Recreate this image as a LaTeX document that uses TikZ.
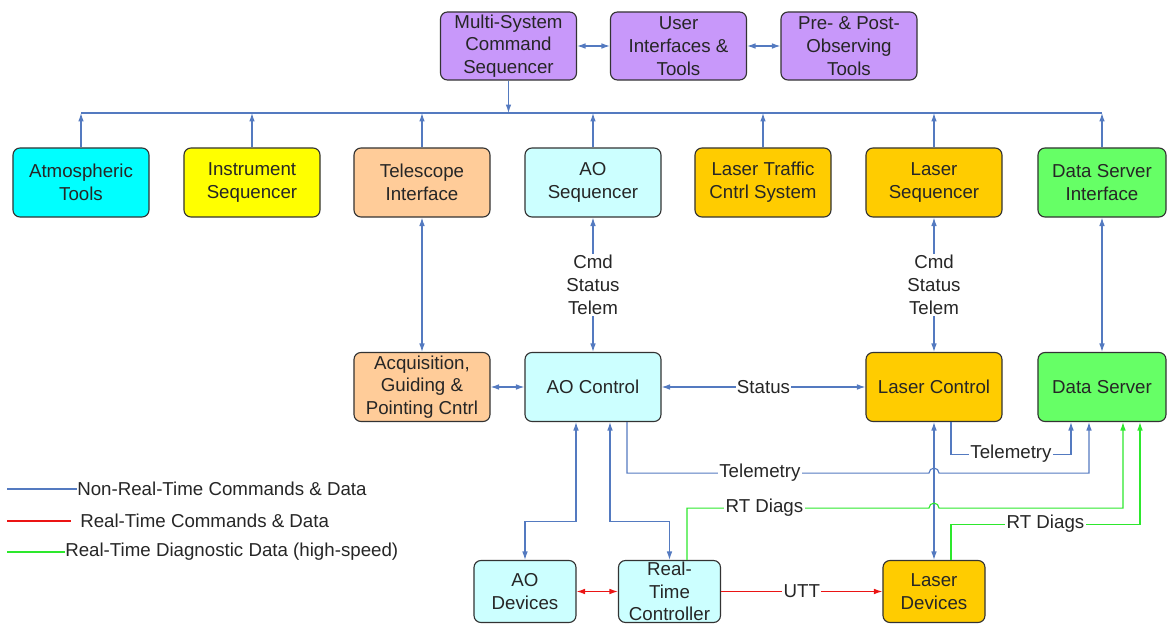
\documentclass[tikz,border=0pt]{standalone}
\usepackage{fontspec}
\setmainfont{Liberation Sans}
\usepackage{xcolor}
\usepackage{tikz}
\usetikzlibrary{arrows.meta,positioning,calc}

\definecolor{nrtblue}{RGB}{84,122,192}
\definecolor{rtred}{RGB}{235,20,20}
\definecolor{diaggreen}{RGB}{45,232,45}
\definecolor{msviolet}{RGB}{200,152,250}
\definecolor{atmcyan}{RGB}{0,255,255}
\definecolor{insyellow}{RGB}{255,255,0}
\definecolor{telpeach}{RGB}{255,204,153}
\definecolor{aocyan}{RGB}{204,255,255}
\definecolor{lasgold}{RGB}{255,204,0}
\definecolor{dsgreen}{RGB}{102,255,102}

\newcommand{\boxfont}{\fontsize{13.3}{16.2}\selectfont}

\tikzset{
  box/.style={draw=black!80, rounded corners=5pt, line width=0.8pt,
    minimum width=3.4cm, minimum height=1.725cm, inner sep=1pt,
    align=center, font=\boxfont, text=black!85},
  devbox/.style={box, minimum width=2.55cm, minimum height=1.55cm, inner sep=0pt},
  nrt/.style={draw=nrtblue, line width=0.8pt},
  rt/.style={draw=rtred, line width=0.8pt},
  diag/.style={draw=diaggreen, line width=0.8pt},
  lbl/.style={fill=white, inner sep=1pt, align=center, font=\boxfont, text=black!85},
  legtext/.style={anchor=west, inner sep=0pt, font=\boxfont, text=black!85},
}

\begin{document}
\begin{tikzpicture}[x=0.025cm, y=-0.025cm, >={Latex[length=6pt,width=4pt]}]
    \useasboundingbox (0,0) rectangle (1167,624);

    % Command and user tools
    \node[box, fill=msviolet, minimum height=1.7cm] (mscs) at (508.5,46) {Multi-System\\Command\\Sequencer};
    \node[box, fill=msviolet, minimum height=1.7cm] (uit) at (678.5,46) {User\\Interfaces \&\\Tools};
    \node[box, fill=msviolet, minimum height=1.7cm] (ppot) at (849,46) {Pre- \& Post-\\Observing\\Tools};

    % Sequencers and interfaces
    \node[box, fill=atmcyan] (atm) at (81,182.5) {Atmospheric\\Tools};
    \node[box, fill=insyellow] (ins) at (252,182.5) {Instrument\\Sequencer};
    \node[box, fill=telpeach] (tel) at (422,182.5) {Telescope\\Interface};
    \node[box, fill=aocyan] (aoseq) at (593,182.5) {AO\\Sequencer};
    \node[box, fill=lasgold] (ltcs) at (763,182.5) {Laser Traffic\\Cntrl System};
    \node[box, fill=lasgold] (lseq) at (934,182.5) {Laser\\Sequencer};
    \node[box, fill=dsgreen, minimum width=3.2cm] (dsi) at (1102,182.5) {Data Server\\Interface};

    % Control layer
    \node[box, fill=telpeach] (acq) at (422,387) {Acquisition,\\Guiding \&\\Pointing Cntrl};
    \node[box, fill=aocyan] (aoctl) at (593,387) {AO Control};
    \node[box, fill=lasgold] (lctl) at (934,387) {Laser Control};
    \node[box, fill=dsgreen, minimum width=3.2cm] (ds) at (1102,387) {Data Server};

    % Devices
    \node[devbox, fill=aocyan] (aodev) at (525,591.5) {AO\\Devices};
    \node[devbox, fill=aocyan] (rtc) at (669.5,591.5) {Real-\\Time\\Controller};
    \node[devbox, fill=lasgold] (ldev) at (934,591.5) {Laser\\Devices};

    % Data Server entry points
    \coordinate (dsA) at ($(ds.south)+(-31,0)$);
    \coordinate (dsB) at ($(ds.south)+(-13,0)$);
    \coordinate (dsC) at ($(ds.south)+(21,0)$);
    \coordinate (dsD) at ($(ds.south)+(38,0)$);

    % Top connections and bus
    \draw[nrt,<->] (mscs) -- (uit);
    \draw[nrt,<->] (uit) -- (ppot);
    \coordinate (bus) at (508.5,113);
    \draw[nrt] (atm.north |- bus) -- (dsi.north |- bus);
    \draw[nrt,->] (mscs) -- (bus);
    \foreach \n in {atm,ins,tel,aoseq,ltcs,lseq,dsi}
        \draw[nrt,->] (\n) -- (\n |- bus);

    % Sequencer to control
    \draw[nrt,<->] (tel) -- (acq);
    \draw[nrt,<->] (aoseq) -- node[lbl] {Cmd\\Status\\Telem} (aoctl);
    \draw[nrt,<->] (lseq) -- node[lbl] {Cmd\\Status\\Telem} (lctl);
    \draw[nrt,<->] (dsi) -- (ds);
    \draw[nrt,<->] (acq) -- (aoctl);
    \draw[nrt,<->] (aoctl) -- node[lbl] {Status} (lctl);

    % Telemetry
    \draw[nrt,->] ($(lctl.south)+(17,0)$) |- node[lbl,pos=0.75] {Telemetry} ($(dsA)+(0,32)$) -- (dsA);
    \draw[nrt,->] ($(aoctl.south)+(34,0)$) |- node[lbl,pos=0.72] {Telemetry}
        ($(lctl.south)+(-5,51)$) arc (180:360:5) -| (dsB);

    % Control to devices
    \draw[nrt,<->] ($(aoctl.south)+(-17,0)$) |- ($(aodev.north)+(0,-38)$) -- (aodev.north);
    \draw[nrt,<->] ($(aoctl.south)+(17,0)$) |- ($(rtc.north)+(0,-38)$) -- (rtc.north);
    \draw[nrt,<->] (lctl) -- (ldev);

    % Real-time links
    \draw[rt,<->] (aodev) -- (rtc);
    \draw[rt,->] (rtc) -- node[lbl] {UTT} (ldev);

    % Diagnostics
    \draw[diag,->] ($(rtc.north)+(17.5,0)$) |- node[lbl,pos=0.66] {RT Diags}
        ($(lctl.south)+(-5,86)$) arc (180:360:5) -| (dsC);
    \draw[diag,->] ($(ldev.north)+(17,0)$) |- node[lbl,pos=0.75] {RT Diags} ($(dsD)+(0,102)$) -- (dsD);

    % Legend
    \node[legtext] (legnrt) at (77,489) {Non-Real-Time Commands \& Data};
    \node[legtext] (legrt) at (80,521) {Real-Time Commands \& Data};
    \node[legtext] (legdiag) at (65,552) {Real-Time Diagnostic Data (high-speed)};
    \coordinate (legA) at (7,489);
    \coordinate (legB) at (7,521);
    \coordinate (legC) at (7,552);
    \draw[nrt] (legA) -- (legnrt.west);
    \draw[rt] (legB) -- ($(legrt.west)+(-9,0)$);
    \draw[diag] (legC) -- (legdiag.west);
\end{tikzpicture}
\end{document}
